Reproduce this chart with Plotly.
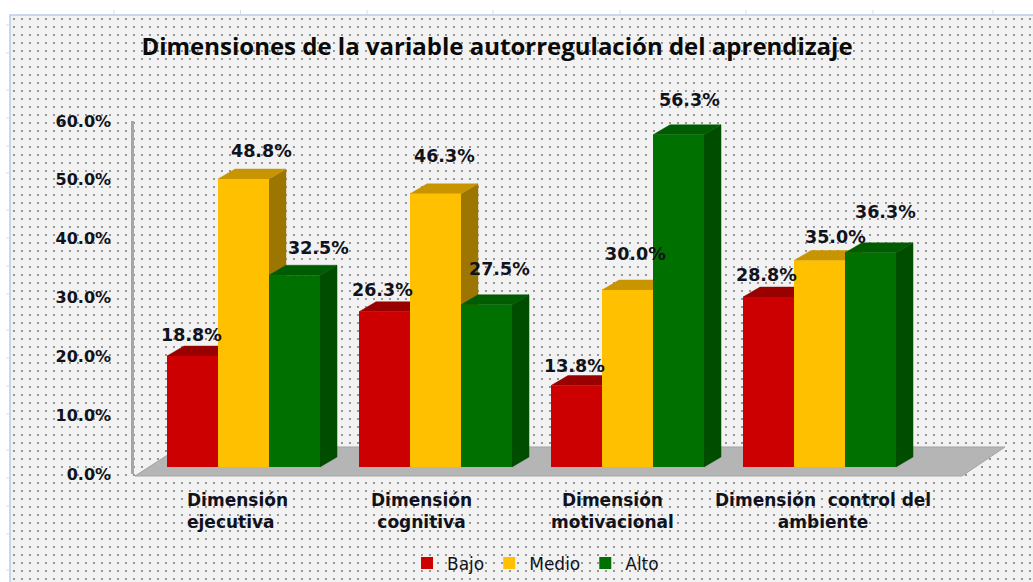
import plotly.graph_objects as go

TITLE = "Dimensiones de la variable autorregulación del aprendizaje"
CATEGORIES = ["Dimensión<br>ejecutiva", "Dimensión<br>cognitiva",
              "Dimensión<br>motivacional", "Dimensión  control del<br>ambiente"]
BAJO = [18.8, 26.3, 13.8, 28.8]
MEDIO = [48.8, 46.3, 30.0, 35.0]
ALTO = [32.5, 27.5, 56.3, 36.3]
SERIES_NAMES = ["Bajo", "Medio", "Alto"]
Y_TICKS = [0, 10, 20, 30, 40, 50, 60]
Y_TICK_LABELS = ["0.0%", "10.0%", "20.0%", "30.0%", "40.0%", "50.0%", "60.0%"]

# styles and placement
W, H = 1033, 582
PX_X = 192.0            # pixels per category
PX_Y = 5.9              # pixels per percentage point
X0_PX, Y0_PX = 243.5, 467.0   # pixel of first category centre / of value 0
BAR_W = 51 / PX_X
DX, DY = 17 / PX_X, 10 / PX_Y  # 3D depth
FRONT = ["#cc0000", "#ffc000", "#007000"]
SIDE = ["#7d0000", "#9c7600", "#004d00"]
TOP = ["#990000", "#c89400", "#005c00"]
INK = "#10121c"
BOLD = "DejaVu Sans"
LABEL_SHIFTS = [
    [(-1, 21), (18, 28), (24, 27)],
    [(-2, 22), (9, 38), (13, 36)],
    [(-2, 20), (8, 36), (11, 35)],
    [(-2, 22), (16, 24), (15, 41)],
]
CAT_SHIFTS = [-6, -14, -15, 3]
RULER_TOP_PX = [114, 240.5, 367, 493, 620, 746, 873, 993]
RULER_LEFT_PX = [25, 53, 90, 118, 146, 173, 210, 238, 266, 294, 330, 358, 386, 414, 450, 478, 506, 534, 570]
X_RANGE = [(0 - X0_PX) / PX_X, (W - X0_PX) / PX_X]
Y_RANGE = [(Y0_PX - H) / PX_Y, Y0_PX / PX_Y]


def xu(px):
    return (px - X0_PX) / PX_X


def yu(px):
    return (Y0_PX - px) / PX_Y


fig = go.Figure()

# dotted chart background
fig.add_trace(go.Bar(x=[0], y=[1], width=[1], xaxis="x", yaxis="y", showlegend=False, hoverinfo="skip",
                     marker=dict(color="#f2f2f2", line_width=0,
                                 pattern=dict(shape=".", size=8, solidity=0.045, fgcolor="#707070",
                                              bgcolor="#f2f2f2", fillmode="replace"))))

# floor
fig.add_trace(go.Scatter(x=[xu(135), xu(962), xu(1005), xu(180), xu(135)],
                         y=[yu(476), yu(476), yu(447), yu(447), yu(476)],
                         mode="lines", fill="toself", fillcolor="#b5b5b5", line=dict(color="#a3a3a3", width=1),
                         xaxis="x2", yaxis="y2", showlegend=False, hoverinfo="skip"))

# depth faces of the bars
for j, values in enumerate([BAJO, MEDIO, ALTO]):
    for i, v in enumerate(values):
        left = i + (j - 1) * BAR_W - BAR_W / 2
        right = left + BAR_W
        fig.add_trace(go.Scatter(x=[right, right + DX, right + DX, right, right],
                                 y=[0, DY, v + DY, v, 0],
                                 mode="lines", fill="toself", fillcolor=SIDE[j], line=dict(color=SIDE[j], width=0.5),
                                 xaxis="x2", yaxis="y2", showlegend=False, hoverinfo="skip"))
        fig.add_trace(go.Scatter(x=[left, left + DX, right + DX, right, left],
                                 y=[v, v + DY, v + DY, v, v],
                                 mode="lines", fill="toself", fillcolor=TOP[j], line=dict(color=TOP[j], width=0.5),
                                 xaxis="x2", yaxis="y2", showlegend=False, hoverinfo="skip"))

# front faces
for j, values in enumerate([BAJO, MEDIO, ALTO]):
    fig.add_trace(go.Bar(x=CATEGORIES, y=values, name=SERIES_NAMES[j], xaxis="x3", yaxis="y3",
                         marker=dict(color=FRONT[j], line_width=0)))

# value axis
fig.add_trace(go.Scatter(x=[0, 1], y=[0, 60], mode="none", xaxis="x4", yaxis="y4",
                         showlegend=False, hoverinfo="skip"))

annotations = []
for j, values in enumerate([BAJO, MEDIO, ALTO]):
    for i, v in enumerate(values):
        sx, sy = LABEL_SHIFTS[i][j]
        annotations.append(dict(x=i + (j - 1) * BAR_W, y=v, xref="x2", yref="y2", text=f"{v:.1f}%",
                                showarrow=False, xshift=sx, yshift=sy, xanchor="center", yanchor="middle",
                                font=dict(family=BOLD, size=17.5, color=INK, weight="bold")))
for i, c in enumerate(CATEGORIES):
    annotations.append(dict(x=i, y=yu(511), xref="x2", yref="y2", text=c, showarrow=False,
                            xshift=CAT_SHIFTS[i], xanchor="center", yanchor="middle",
                            align="left" if i == 0 else "center",
                            font=dict(family=BOLD, size=17, color=INK, weight="bold")))

shapes = [dict(type="rect", xref="paper", yref="paper", x0=10 / W, x1=1.01, y0=-0.01, y1=1 - 15 / H,
               line=dict(color="#b9cde5", width=1.5), fillcolor="rgba(0,0,0,0)", layer="above")]
for px in RULER_TOP_PX:
    shapes.append(dict(type="line", xref="paper", yref="paper", x0=px / W, x1=px / W,
                       y0=1 - 14 / H, y1=1 - 10 / H, line=dict(color="#d9d9d9", width=1)))
for py in RULER_LEFT_PX:
    shapes.append(dict(type="line", xref="paper", yref="paper", x0=6 / W, x1=9 / W,
                       y0=1 - py / H, y1=1 - py / H, line=dict(color="#d9d9d9", width=1)))

hidden = dict(visible=False, showgrid=False, zeroline=False, fixedrange=True, automargin=False)
fig.update_layout(
    template="none",
    width=W, height=H, autosize=False,
    margin=dict(l=0, r=0, t=0, b=0, pad=0),
    paper_bgcolor="#ffffff", plot_bgcolor="rgba(0,0,0,0)",
    barmode="group", bargap=1 - 3 * BAR_W, bargroupgap=0,
    title=dict(text=TITLE, x=497 / W, y=1 - 47 / H, xanchor="center", yanchor="middle",
               font=dict(family="Open Sans", size=24, color="#0a0a0a", weight="bold")),
    xaxis=dict(hidden, domain=[10 / W, 1], range=[-0.5, 0.5]),
    yaxis=dict(hidden, domain=[0, 1 - 15 / H], range=[0, 1]),
    xaxis2=dict(hidden, domain=[0, 1], range=X_RANGE, anchor="y2"),
    yaxis2=dict(hidden, domain=[0, 1], range=Y_RANGE, anchor="x2"),
    xaxis3=dict(hidden, domain=[0, 1], range=X_RANGE, anchor="y3", type="category"),
    yaxis3=dict(hidden, domain=[0, 1], range=Y_RANGE, anchor="x3"),
    xaxis4=dict(hidden, domain=[134 / W, 1], range=[0, 1], anchor="y4"),
    yaxis4=dict(domain=[(H - 474) / H, (H - 121) / H], range=[0, 60], anchor="x4",
                tickmode="array", tickvals=Y_TICKS, ticktext=Y_TICK_LABELS, automargin=False,
                showgrid=False, zeroline=False, fixedrange=True,
                showline=True, linecolor="#a6a6a6", linewidth=2.5,
                ticks="outside", ticklen=17, tickcolor="rgba(0,0,0,0)",
                tickfont=dict(family=BOLD, size=16, color=INK, weight="bold")),
    legend=dict(orientation="h", x=407 / W, y=0.001, xanchor="left", yanchor="bottom",
                bgcolor="rgba(0,0,0,0)", itemwidth=30, tracegroupgap=0,
                font=dict(family=BOLD, size=17, color=INK)),
    annotations=annotations,
    shapes=shapes,
)

fig.write_html("out.html", config={"displayModeBar": False}, post_script="document.body.style.margin='0';")
